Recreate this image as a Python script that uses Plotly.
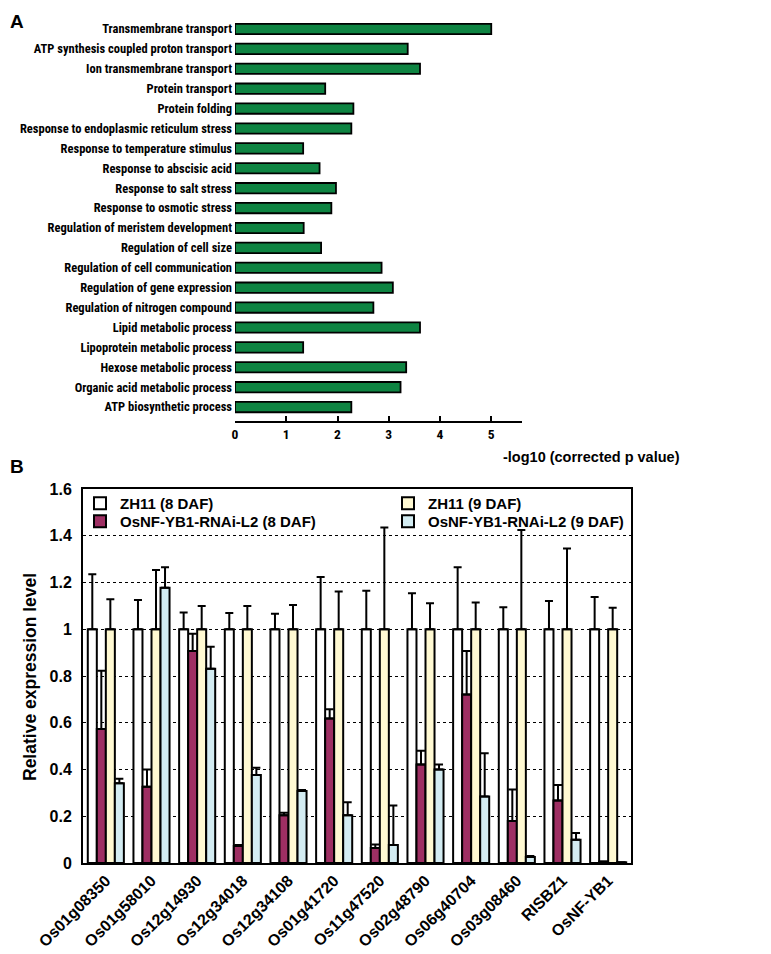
import plotly.graph_objects as go

# Panel A: GO enrichment
go_terms = [
    "Transmembrane transport", "ATP synthesis coupled proton transport",
    "Ion transmembrane transport", "Protein transport", "Protein folding",
    "Response to endoplasmic reticulum stress", "Response to temperature stimulus",
    "Response to abscisic acid", "Response to salt stress", "Response to osmotic stress",
    "Regulation of meristem development", "Regulation of cell size",
    "Regulation of cell communication", "Regulation of gene expression",
    "Regulation of nitrogen compound", "Lipid metabolic process",
    "Lipoprotein metabolic process", "Hexose metabolic process",
    "Organic acid metabolic process", "ATP biosynthetic process",
]
neg_log_p = [5.0, 3.37, 3.61, 1.76, 2.31, 2.27, 1.33, 1.65, 1.97, 1.88,
             1.34, 1.68, 2.86, 3.08, 2.70, 3.61, 1.33, 3.34, 3.23, 2.27]

# Panel B: qRT-PCR
genes = ["Os01g08350", "Os01g58010", "Os12g14930", "Os12g34018", "Os12g34108",
         "Os01g41720", "Os11g47520", "Os02g48790", "Os06g40704", "Os03g08460",
         "RISBZ1", "OsNF-YB1"]
zh11_8 = [1, 1, 1, 1, 1, 1, 1, 1, 1, 1, 1, 1]
zh11_8_err = [0.235, 0.125, 0.072, 0.07, 0.066, 0.224, 0.165, 0.154, 0.265, 0.094, 0.121, 0.138]
rnai_8 = [0.573, 0.326, 0.907, 0.073, 0.204, 0.618, 0.064, 0.421, 0.721, 0.18, 0.267, 0.006]
rnai_8_err = [0.249, 0.074, 0.074, 0.004, 0.011, 0.04, 0.015, 0.059, 0.186, 0.134, 0.067, 0.0]
zh11_9 = [1, 1, 1, 1, 1, 1, 1, 1, 1, 1, 1, 1]
zh11_9_err = [0.128, 0.253, 0.10, 0.10, 0.104, 0.162, 0.435, 0.111, 0.114, 0.425, 0.345, 0.092]
rnai_9 = [0.341, 1.178, 0.831, 0.377, 0.308, 0.204, 0.077, 0.40, 0.284, 0.026, 0.099, 0.003]
rnai_9_err = [0.019, 0.087, 0.094, 0.031, 0.004, 0.056, 0.169, 0.021, 0.186, 0.004, 0.029, 0.0]

W, H = 771, 954
OFF = 8  # page body margin
fig = go.Figure()

# ---- Panel A ----
fig.add_trace(go.Bar(
    y=go_terms, x=neg_log_p, orientation="h", width=0.52,
    marker=dict(color="#0e8442", line=dict(color="black", width=1.8)),
    xaxis="x", yaxis="y", showlegend=False,
))

# ---- Panel B ----
series = [
    ("ZH11 (8 DAF)", zh11_8, zh11_8_err, "white", "legend"),
    ("OsNF-YB1-RNAi-L2 (8 DAF)", rnai_8, rnai_8_err, "#9e2f63", "legend3"),
    ("ZH11 (9 DAF)", zh11_9, zh11_9_err, "#fff9d2", "legend2"),
    ("OsNF-YB1-RNAi-L2 (9 DAF)", rnai_9, rnai_9_err, "#d3ecf2", "legend4"),
]
for name, vals, errs, color, leg in series:
    fig.add_trace(go.Bar(
        x=genes, y=vals, name=name, legend=leg,
        marker=dict(color=color, line=dict(color="black", width=2)),
        error_y=dict(type="data", array=errs, arrayminus=[0] * len(errs),
                     symmetric=False, color="black", thickness=2, width=4),
        xaxis="x2", yaxis="y2",
    ))

narrow = "Roboto Condensed, Liberation Sans, sans-serif"
arial = "Liberation Sans, Arial, sans-serif"

def px_x(p):
    return max(p - OFF, 0) / W

def px_y(p):
    return 1 - (p - OFF) / H

def legend_at(x, y):
    return dict(x=px_x(x), y=px_y(y), xanchor="left", yanchor="top",
                bgcolor="rgba(0,0,0,0)", font=dict(size=15, weight="bold"),
                itemwidth=30)

fig.update_layout(
    width=W, height=H, margin=dict(l=0, r=0, t=0, b=0),
    plot_bgcolor="white", paper_bgcolor="white",
    barmode="group", bargap=0.21, bargroupgap=0,
    font=dict(family=arial, color="black"),
    xaxis=dict(
        domain=[px_x(235), px_x(522)], range=[0, 5.6], anchor="y",
        showline=True, linecolor="black", linewidth=2, automargin=False,
        ticks="inside", ticklen=5, tickwidth=1.5, tickcolor="black",
        dtick=1, showgrid=False, zeroline=False,
        tickfont=dict(family=narrow, size=13.5, weight="bold"),
    ),
    yaxis=dict(
        domain=[px_y(421), px_y(19)], anchor="x", automargin=False,
        categoryorder="array", categoryarray=go_terms,
        range=[19.7, -0.5], showline=False, showgrid=False, ticks="",
        ticklabelstandoff=2,
        tickfont=dict(family=narrow, size=12.5, weight="bold"),
    ),
    xaxis2=dict(
        domain=[px_x(83), px_x(631)], anchor="y2", automargin=False,
        showline=True, mirror=True, linecolor="black", linewidth=2,
        ticks="", tickangle=-45, showgrid=False,
        tickfont=dict(size=16, weight="bold"),
    ),
    yaxis2=dict(
        domain=[px_y(863), px_y(489)], anchor="x2", range=[0, 1.6], automargin=False,
        dtick=0.2, showline=True, mirror=True, linecolor="black", linewidth=2,
        showgrid=True, gridcolor="black", griddash="dot", gridwidth=1.2,
        zeroline=False, ticks="", ticklabelstandoff=6,
        tickfont=dict(size=16, weight="bold"),
    ),
    legend=legend_at(80, 487),
    legend2=legend_at(388, 487),
    legend3=legend_at(80, 505),
    legend4=legend_at(388, 505),
    annotations=[
        dict(text="A", x=px_x(8), y=px_y(9), xref="paper", yref="paper",
             showarrow=False, xanchor="left", yanchor="top",
             font=dict(size=19, weight="bold")),
        dict(text="B", x=px_x(8), y=px_y(466), xref="paper", yref="paper",
             showarrow=False, xanchor="left", yanchor="middle",
             font=dict(size=19, weight="bold")),
        dict(text="-log10 (corrected p value)", x=px_x(591), y=px_y(457),
             xref="paper", yref="paper", showarrow=False,
             xanchor="center", yanchor="middle",
             font=dict(size=14.5, weight="bold")),
        dict(text="Relative expression level", x=px_x(30), y=px_y(677),
             xref="paper", yref="paper", showarrow=False, textangle=-90,
             xanchor="center", yanchor="middle",
             font=dict(size=17.5, weight="bold")),
    ],
)

fig.write_html("out.html")
